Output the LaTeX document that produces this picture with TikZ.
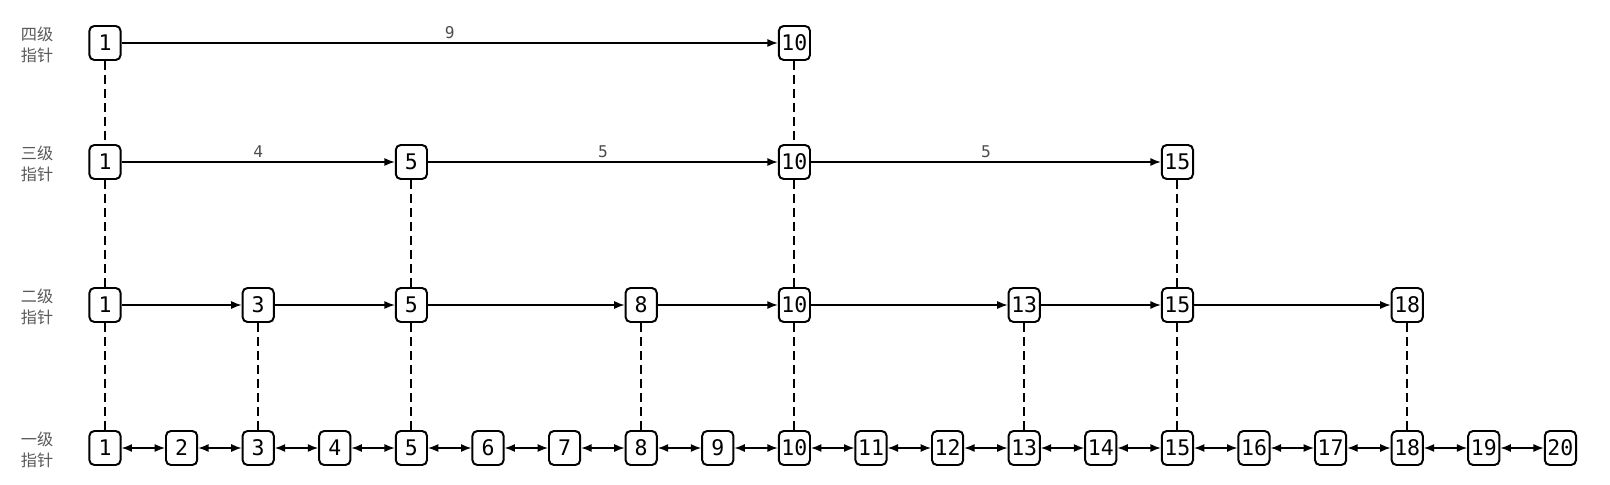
\documentclass[tikz,border=0pt]{standalone}
\usepackage{fontspec}
\setmonofont{DejaVu Sans Mono}
\newfontfamily\cjk{Noto Sans CJK SC}
\usetikzlibrary{arrows.meta}
\tikzstyle{key} = [
    rectangle, rounded corners=3.5pt,
    minimum width=0.78cm, minimum height=0.85cm, inner sep=0pt,
    text centered, font=\ttfamily\fontsize{15.3}{16}\selectfont,
    draw=black, line width=1.4pt, fill=white
]
\tikzstyle{level} = [
    align=center, text=black!65,
    font=\cjk\fontsize{11.5}{15}\selectfont
]
\tikzstyle{span} = [above, inner sep=2.5pt, text=black!70, font=\ttfamily\fontsize{11.5}{12}\selectfont]
\tikzstyle{arrow} = [line width=1pt, -{Latex[length=2.6mm, width=2mm]}]
\tikzstyle{link} = [line width=1pt, {Latex[length=2.6mm, width=2mm]}-{Latex[length=2.6mm, width=2mm]}]
\tikzstyle{down} = [line width=1.4pt, dash pattern=on 0.22cm off 0.13cm]

\begin{document}
\begin{tikzpicture}[x=0.025cm, y=-0.025cm]
        \useasboundingbox (0,0) rectangle (1610,485);
        % Draw levels
        \node (lv4) [level] at (37,45) {四级\\指针};
        \node (lv3) [level] at (37,164) {三级\\指针};
        \node (lv2) [level] at (37,307) {二级\\指针};
        \node (lv1) [level] at (37,450) {一级\\指针};

        % Draw keys
        \node (f1) [key] at (105,43) {1};
        \node (f10) [key] at (794.4,43) {10};

        \node (t1) [key] at (105,162) {1};
        \node (t5) [key] at (411.4,162) {5};
        \node (t10) [key] at (794.4,162) {10};
        \node (t15) [key] at (1177.4,162) {15};

        \node (s1) [key] at (105,305) {1};
        \node (s3) [key] at (258.2,305) {3};
        \node (s5) [key] at (411.4,305) {5};
        \node (s8) [key] at (641.2,305) {8};
        \node (s10) [key] at (794.4,305) {10};
        \node (s13) [key] at (1024.2,305) {13};
        \node (s15) [key] at (1177.4,305) {15};
        \node (s18) [key] at (1407.2,305) {18};

        \node (b1) [key] at (105,448) {1};
        \node (b2) [key] at (181.6,448) {2};
        \node (b3) [key] at (258.2,448) {3};
        \node (b4) [key] at (334.8,448) {4};
        \node (b5) [key] at (411.4,448) {5};
        \node (b6) [key] at (488,448) {6};
        \node (b7) [key] at (564.6,448) {7};
        \node (b8) [key] at (641.2,448) {8};
        \node (b9) [key] at (717.8,448) {9};
        \node (b10) [key] at (794.4,448) {10};
        \node (b11) [key] at (871,448) {11};
        \node (b12) [key] at (947.6,448) {12};
        \node (b13) [key] at (1024.2,448) {13};
        \node (b14) [key] at (1100.8,448) {14};
        \node (b15) [key] at (1177.4,448) {15};
        \node (b16) [key] at (1254,448) {16};
        \node (b17) [key] at (1330.6,448) {17};
        \node (b18) [key] at (1407.2,448) {18};
        \node (b19) [key] at (1483.8,448) {19};
        \node (b20) [key] at (1560.4,448) {20};

        % Draw arrows
        \draw [arrow] (f1) -- node[span] {9} (f10);

        \draw [arrow] (t1) -- node[span] {4} (t5);
        \draw [arrow] (t5) -- node[span] {5} (t10);
        \draw [arrow] (t10) -- node[span] {5} (t15);

        \draw [arrow] (s1) -- (s3);
        \draw [arrow] (s3) -- (s5);
        \draw [arrow] (s5) -- (s8);
        \draw [arrow] (s8) -- (s10);
        \draw [arrow] (s10) -- (s13);
        \draw [arrow] (s13) -- (s15);
        \draw [arrow] (s15) -- (s18);

        \draw [link] (b1) -- (b2);
        \draw [link] (b2) -- (b3);
        \draw [link] (b3) -- (b4);
        \draw [link] (b4) -- (b5);
        \draw [link] (b5) -- (b6);
        \draw [link] (b6) -- (b7);
        \draw [link] (b7) -- (b8);
        \draw [link] (b8) -- (b9);
        \draw [link] (b9) -- (b10);
        \draw [link] (b10) -- (b11);
        \draw [link] (b11) -- (b12);
        \draw [link] (b12) -- (b13);
        \draw [link] (b13) -- (b14);
        \draw [link] (b14) -- (b15);
        \draw [link] (b15) -- (b16);
        \draw [link] (b16) -- (b17);
        \draw [link] (b17) -- (b18);
        \draw [link] (b18) -- (b19);
        \draw [link] (b19) -- (b20);

        % Draw dashed links down
        \draw [down] (f1) -- (t1);
        \draw [down] (t1) -- (s1);
        \draw [down] (s1) -- (b1);
        \draw [down] (f10) -- (t10);
        \draw [down] (t10) -- (s10);
        \draw [down] (s10) -- (b10);
        \draw [down] (t5) -- (s5);
        \draw [down] (s5) -- (b5);
        \draw [down] (t15) -- (s15);
        \draw [down] (s15) -- (b15);
        \draw [down] (s3) -- (b3);
        \draw [down] (s8) -- (b8);
        \draw [down] (s13) -- (b13);
        \draw [down] (s18) -- (b18);
    \end{tikzpicture}
\end{document}
